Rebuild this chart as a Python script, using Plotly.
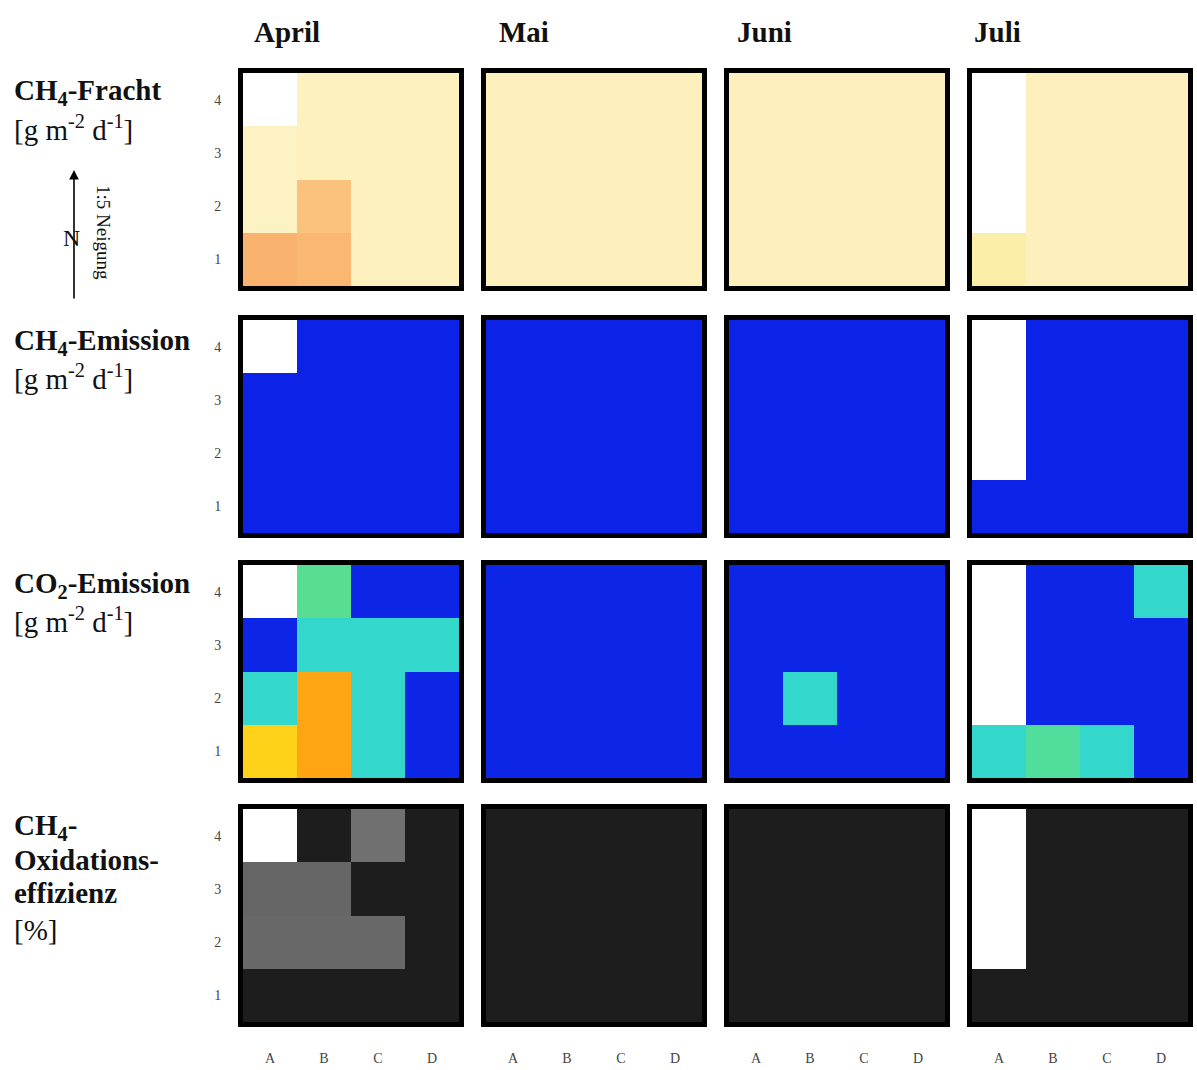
import numpy as np
import plotly.graph_objects as go

W, H = 1197, 1070
NAN = np.nan

# Plot grid layout (columns A-D along x, rows 1-4 along y)
columns = ["A", "B", "C", "D"]
rows = [1, 2, 3, 4]
months = ["April", "Mai", "Juni", "Juli"]

# Values are listed row by row, from row 1 (bottom) to row 4 (top)
# CH4-Fracht [g m-2 d-1]
fracht_april = [[42, 40, 4, 4], [3, 34, 4, 4], [3, 4, 4, 4], [NAN, 4, 4, 4]]
fracht_mai = [[5, 5, 5, 5], [5, 5, 5, 5], [5, 5, 5, 5], [5, 5, 5, 5]]
fracht_juni = [[5, 5, 5, 5], [5, 5, 5, 5], [5, 5, 5, 5], [5, 5, 5, 5]]
fracht_juli = [[9, 5, 5, 5], [NAN, 5, 5, 5], [NAN, 5, 5, 5], [NAN, 5, 5, 5]]

# CH4-Emission [g m-2 d-1]
ch4em_april = [[0.1, 0.1, 0.1, 0.1], [0.1, 0.1, 0.1, 0.1], [0.1, 0.1, 0.1, 0.1], [NAN, 0.1, 0.1, 0.1]]
ch4em_mai = [[0.1, 0.1, 0.1, 0.1], [0.1, 0.1, 0.1, 0.1], [0.1, 0.1, 0.1, 0.1], [0.1, 0.1, 0.1, 0.1]]
ch4em_juni = [[0.1, 0.1, 0.1, 0.1], [0.1, 0.1, 0.1, 0.1], [0.1, 0.1, 0.1, 0.1], [0.1, 0.1, 0.1, 0.1]]
ch4em_juli = [[0.1, 0.1, 0.1, 0.1], [NAN, 0.1, 0.1, 0.1], [NAN, 0.1, 0.1, 0.1], [NAN, 0.1, 0.1, 0.1]]

# CO2-Emission [g m-2 d-1]
co2_april = [[30, 36, 13, 0.5], [13, 36, 13, 0.5], [0.5, 13, 13, 13], [NAN, 18, 0.5, 0.5]]
co2_mai = [[0.5, 0.5, 0.5, 0.5], [0.5, 0.5, 0.5, 0.5], [0.5, 0.5, 0.5, 0.5], [0.5, 0.5, 0.5, 0.5]]
co2_juni = [[0.5, 0.5, 0.5, 0.5], [0.5, 13, 0.5, 0.5], [0.5, 0.5, 0.5, 0.5], [0.5, 0.5, 0.5, 0.5]]
co2_juli = [[13, 17, 13, 0.5], [NAN, 0.5, 0.5, 0.5], [NAN, 0.5, 0.5, 0.5], [NAN, 0.5, 0.5, 13]]

# CH4-Oxidationseffizienz [%]
oxi_april = [[0, 0, 0, 0], [38, 38, 38, 0], [37, 37, 0, 0], [NAN, 0, 42, 0]]
oxi_mai = [[0, 0, 0, 0], [0, 0, 0, 0], [0, 0, 0, 0], [0, 0, 0, 0]]
oxi_juni = [[0, 0, 0, 0], [0, 0, 0, 0], [0, 0, 0, 0], [0, 0, 0, 0]]
oxi_juli = [[0, 0, 0, 0], [NAN, 0, 0, 0], [NAN, 0, 0, 0], [NAN, 0, 0, 0]]

fracht_scale = [[0.0, "#FEF6CE"], [0.1, "#FDF0BC"], [0.2, "#FBEDA4"],
                [0.7, "#FBC07C"], [1.0, "#F7A45E"]]
jet_scale = [[0.0, "#0B1DE8"], [0.3, "#2CD6D8"], [0.45, "#58DE90"],
             [0.75, "#FFD21A"], [0.9, "#FFA514"], [1.0, "#FF7A10"]]
grey_scale = [[0.0, "#1D1D1D"], [1.0, "#E2E2E2"]]

panel_rows = [
    dict(data=[fracht_april, fracht_mai, fracht_juni, fracht_juli], scale=fracht_scale, zmin=0, zmax=50),
    dict(data=[ch4em_april, ch4em_mai, ch4em_juni, ch4em_juli], scale=jet_scale, zmin=0, zmax=10),
    dict(data=[co2_april, co2_mai, co2_juni, co2_juli], scale=jet_scale, zmin=0, zmax=40),
    dict(data=[oxi_april, oxi_mai, oxi_juni, oxi_juli], scale=grey_scale, zmin=0, zmax=100),
]

# Panel geometry in pixels (inner plotting area; frame drawn outside)
col_left = [243, 486, 729, 972]
panel_w = 216
row_top = [73, 320, 565, 809]
panel_h = 213
title_left = [252, 497, 735, 972]


def px_x(x):
    return x / W


def px_y(y):
    return 1 - y / H


SERIF = "Liberation Serif, Times New Roman, serif"

fig = go.Figure()
layout = dict(
    width=W, height=H,
    margin=dict(l=0, r=0, t=0, b=0),
    paper_bgcolor="white", plot_bgcolor="white",
    showlegend=False,
)

n = 0
for r, prow in enumerate(panel_rows):
    for c in range(4):
        n += 1
        xa = "x" if n == 1 else f"x{n}"
        ya = "y" if n == 1 else f"y{n}"
        fig.add_trace(go.Heatmap(
            x=columns, y=rows, z=prow["data"][c],
            colorscale=prow["scale"], zmin=prow["zmin"], zmax=prow["zmax"],
            showscale=False, xaxis=xa, yaxis=ya, hoverongaps=False,
        ))
        xkey = "xaxis" if n == 1 else f"xaxis{n}"
        ykey = "yaxis" if n == 1 else f"yaxis{n}"
        layout[xkey] = dict(
            domain=[px_x(col_left[c]), px_x(col_left[c] + panel_w)],
            anchor=ya, type="category", range=[-0.5, 3.5],
            showline=True, mirror=True, linewidth=5, linecolor="black",
            showgrid=False, zeroline=False, ticks="",
            showticklabels=(r == 3), ticklabelstandoff=19,
            tickfont=dict(family=SERIF, size=14, color="#444"),
        )
        layout[ykey] = dict(
            domain=[px_y(row_top[r] + panel_h), px_y(row_top[r])],
            anchor=xa, range=[0.5, 4.5], tickvals=rows,
            showline=True, mirror=True, linewidth=5, linecolor="black",
            showgrid=False, zeroline=False, ticks="",
            showticklabels=(c == 0), ticklabelstandoff=14,
            tickfont=dict(family=SERIF, size=14, color="#444"),
        )

fig.update_layout(**layout)

annotations = []
# Month headings
for c, m in enumerate(months):
    annotations.append(dict(
        x=px_x(title_left[c]), y=px_y(32), xref="paper", yref="paper",
        xanchor="left", yanchor="middle", showarrow=False,
        text=f"<b>{m}</b>", font=dict(family=SERIF, size=29, color="#111"),
    ))

# Row headings
row_labels = [
    [("<b>CH<sub>4</sub>-Fracht</b>", 92), ("[g m<sup>-2</sup> d<sup>-1</sup>]", 128)],
    [("<b>CH<sub>4</sub>-Emission</b>", 342), ("[g m<sup>-2</sup> d<sup>-1</sup>]", 377)],
    [("<b>CO<sub>2</sub>-Emission</b>", 585), ("[g m<sup>-2</sup> d<sup>-1</sup>]", 620)],
    [("<b>CH<sub>4</sub>-</b>", 827), ("<b>Oxidations-</b>", 860),
     ("<b>effizienz</b>", 893), ("[%]", 930)],
]
for group in row_labels:
    for txt, yy in group:
        annotations.append(dict(
            x=px_x(12), y=px_y(yy), xref="paper", yref="paper",
            xanchor="left", yanchor="middle", showarrow=False,
            text=txt, font=dict(family=SERIF, size=29, color="#111"),
        ))

# North arrow with slope note
annotations.append(dict(
    x=px_x(74), y=px_y(170), xref="paper", yref="paper",
    ax=0, ay=130, axref="pixel", ayref="pixel",
    text="", showarrow=True, arrowhead=2, arrowsize=1.2, arrowwidth=1.6,
    arrowcolor="black",
))
annotations.append(dict(
    x=px_x(71), y=px_y(238), xref="paper", yref="paper",
    xanchor="center", yanchor="middle", showarrow=False,
    text="N", font=dict(family=SERIF, size=24, color="#111"),
))
annotations.append(dict(
    x=px_x(103), y=px_y(232), xref="paper", yref="paper",
    xanchor="center", yanchor="middle", showarrow=False, textangle=90,
    text="1:5 Neigung", font=dict(family=SERIF, size=19, color="#111"),
))

fig.update_layout(annotations=annotations)

fig.write_html("out.html")
